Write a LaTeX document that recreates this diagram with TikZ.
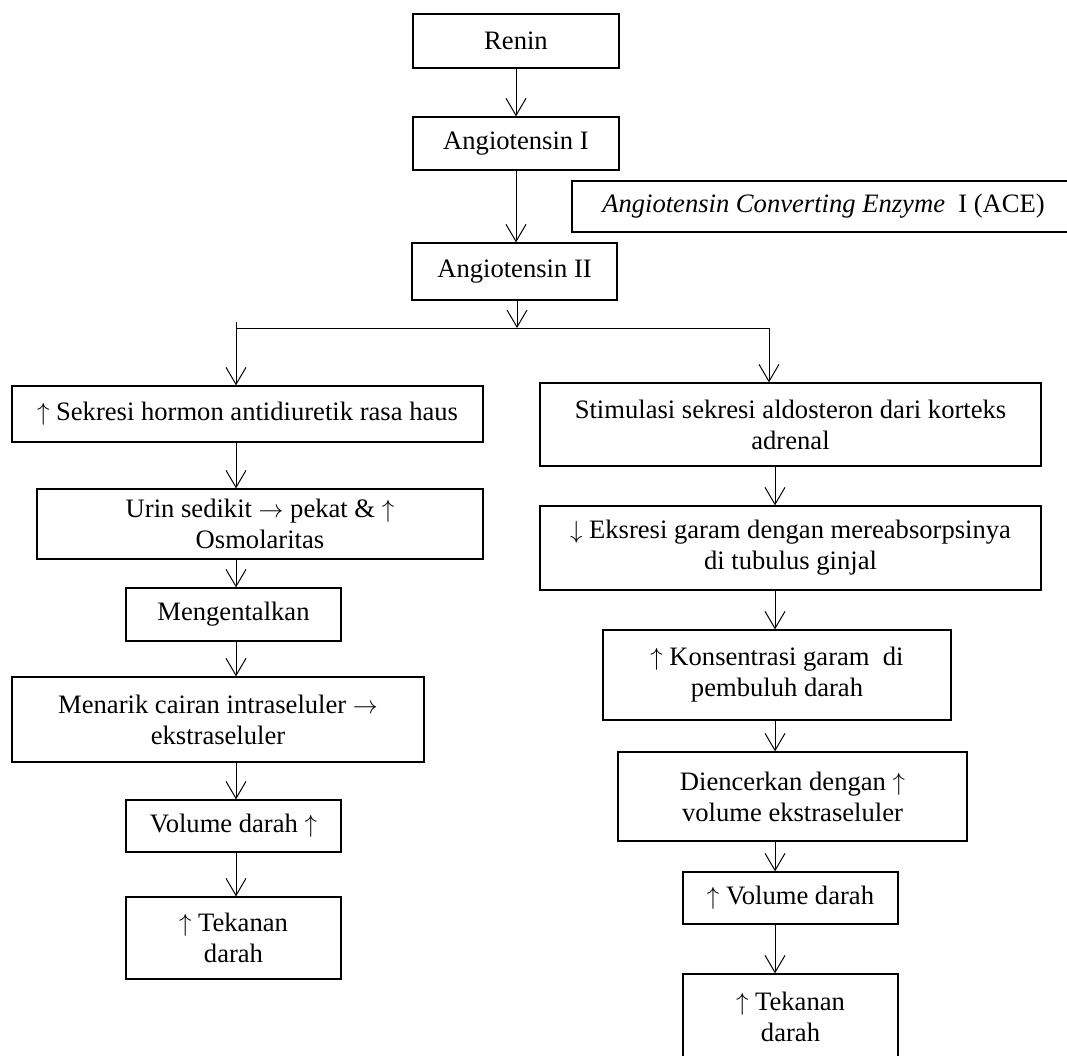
\documentclass[tikz,border=0pt]{standalone}
\usepackage{fontspec}
\setmainfont{Liberation Serif}
\usetikzlibrary{arrows.meta}
\newcommand\myup{\ensuremath{\uparrow}}
\newcommand\mydown{\ensuremath{\downarrow}}
\newcommand\myright{\ensuremath{\rightarrow}}
\begin{document}
\begin{tikzpicture}[x=1pt,y=-1pt,
  box/.style={draw, line width=1.3pt, align=center, inner sep=0pt,
    font=\fontsize{26.6}{31}\selectfont},
  arr/.style={line width=1pt, -{Straight Barb[length=17pt,width=20pt,line width=1pt]}},
  plain/.style={line width=1pt},
]
\useasboundingbox (0,0) rectangle (1067,1056);
\fill[white] (0,0) rectangle (1067,1056);
\clip (0,0) rectangle (1067,1056);

% top chain
\node[box, minimum width=206pt, minimum height=54pt] (renin) at (516,41) {Renin};
\node[box, minimum width=206pt, minimum height=53pt] (ang1) at (516,143.5) {Angiotensin I};
\node[box, minimum width=503pt, minimum height=51pt] (ace) at (823.5,206.5)
  {\textit{Angiotensin Converting Enzyme}\ \ I (ACE)};
\node[box, minimum width=205pt, minimum height=57pt] (ang2) at (514.5,271.5) {Angiotensin II};

% left column
\node[box, minimum width=471pt, minimum height=56pt] (sek) at (247.5,414)
  {\myup{} Sekresi hormon antidiuretik rasa haus};
\node[box, minimum width=446pt, minimum height=70pt] (urin) at (260,524)
  {Urin sedikit \myright{} pekat \& \myup\\Osmolaritas};
\node[box, minimum width=215pt, minimum height=53pt] (meng) at (233.5,614.5) {Mengentalkan};
\node[box, minimum width=412pt, minimum height=85pt] (men) at (218,719.5)
  {Menarik cairan intraseluler \myright\\ekstraseluler};
\node[box, minimum width=215pt, minimum height=52pt] (vol) at (233.5,826) {Volume darah \myup};
\node[box, minimum width=215pt, minimum height=82pt] (tek) at (233.5,938) {\myup{} Tekanan\\darah};

% right column
\node[box, minimum width=501pt, minimum height=83pt] (stim) at (790.5,424.5)
  {Stimulasi sekresi aldosteron dari korteks\\adrenal};
\node[box, minimum width=501pt, minimum height=84pt] (eks) at (790.5,548)
  {\mydown{} Eksresi garam dengan mereabsorpsinya\\di tubulus ginjal};
\node[box, minimum width=348pt, minimum height=90pt] (kons) at (777,675)
  {\myup{} Konsentrasi garam\ \ di\\pembuluh darah};
\node[box, minimum width=349pt, minimum height=89pt] (dien) at (792.5,796.5)
  {Diencerkan dengan \myup\\volume ekstraseluler};
\node[box, minimum width=215pt, minimum height=52pt] (vol2) at (790.5,898) {\myup{} Volume darah};
\node[box, minimum width=215pt, minimum height=86pt] (tek2) at (790.5,1017) {\myup{} Tekanan\\darah};

% helper coordinates
\coordinate (Lx) at (236,0);
\coordinate (Rx) at (775,0);
\coordinate (Jl) at (236,322);
\coordinate (Jm) at (517,328);
\coordinate (Jr) at (769,328);

% connectors
\draw[arr] (renin) -- (ang1);
\draw[arr] (ang1.south) -- (ang1.south |- ang2.north);
\draw[arr] (ang2.south -| Jm) -- (Jm);
\draw[plain] (Jl |- Jm) -- (Jr);
\draw[arr] (Jl) -- (sek.north -| Jl);
\draw[arr] (Jr) -- (stim.north -| Jr);

\draw[arr] (sek.south -| Lx) -- (urin.north -| Lx);
\draw[arr] (urin.south -| Lx) -- (meng.north -| Lx);
\draw[arr] (meng.south -| Lx) -- (men.north -| Lx);
\draw[arr] (men.south -| Lx) -- (vol.north -| Lx);
\draw[arr] (vol.south -| Lx) -- (tek.north -| Lx);

\draw[arr] (stim.south -| Rx) -- (eks.north -| Rx);
\draw[arr] (eks.south -| Rx) -- (kons.north -| Rx);
\draw[arr] (kons.south -| Rx) -- (dien.north -| Rx);
\draw[arr] (dien.south -| Rx) -- (vol2.north -| Rx);
\draw[arr] (vol2.south -| Rx) -- (tek2.north -| Rx);
\end{tikzpicture}
\end{document}
